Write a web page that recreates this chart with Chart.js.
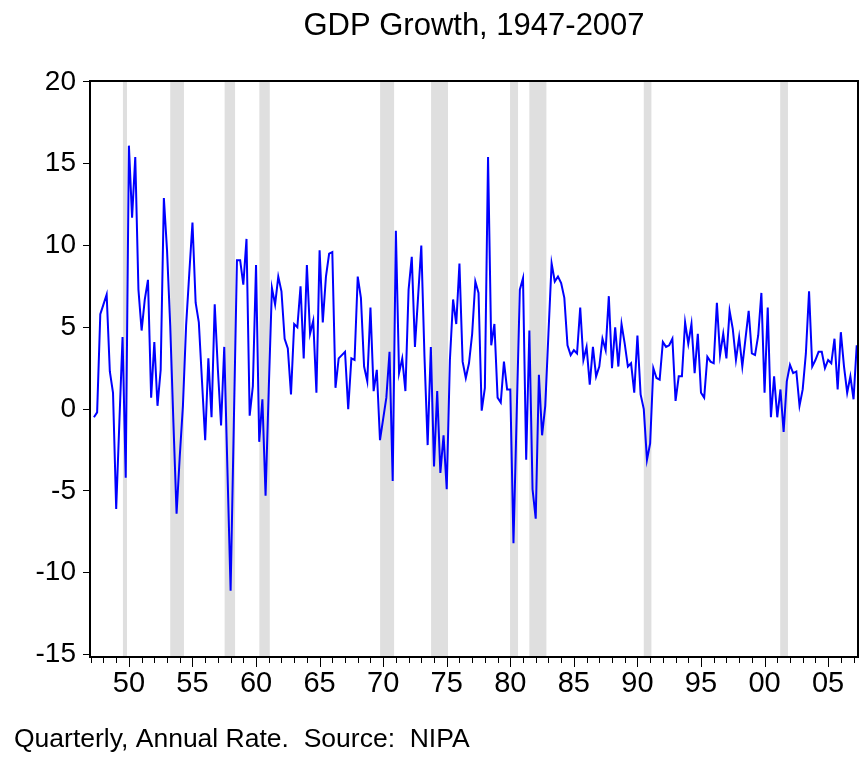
<!DOCTYPE html>
<html lang="en">
<head>
  <meta charset="UTF-8">
  <title>GDP Growth, 1947-2007</title>
  <script src="https://cdn.jsdelivr.net/npm/chart.js"></script>
  <style>
    body {
      margin: 0;
      background: #fff;
    }
    .wrap {
      position: relative;
      width: 860px;
      height: 758px;
    }
  </style>
</head>
<body>
  <div class="wrap">
    <canvas id="gdpChart"></canvas>
  </div>

  <script>
    // quarterly real GDP growth, annual rate, 1947Q2 .. 2007Q2
    const firstYear = 1947;
    const firstQuarter = 2;
    const growth = [
      -0.5, -0.2, 5.8, 6.4, 7.0, 2.3, 1.0, -6.1, -0.8, 4.4,
      -4.2, 16.1, 11.7, 15.4, 7.3, 4.8, 6.7, 7.9, 0.7, 4.1,
      0.2, 2.4, 12.9, 9.7, 5.1, -0.8, -6.4, -2.9, 0.2, 5.1,
      8.3, 11.4, 6.5, 5.3, 1.7, -1.9, 3.1, -0.5, 6.4, 2.4,
      -1.0, 3.8, -3.7, -11.1, -1.0, 9.1, 9.1, 7.6, 10.4, -0.4,
      1.4, 8.8, -2.0, 0.6, -5.3, 1.2, 7.4, 6.4, 8.1, 7.2,
      4.3, 3.7, 0.9, 5.2, 5.0, 7.5, 3.1, 8.8, 4.6, 5.4,
      1.0, 9.7, 5.3, 8.1, 9.5, 9.6, 1.3, 3.1, 3.3, 3.5,
      0.0, 3.1, 3.0, 8.1, 6.8, 2.6, 1.7, 6.2, 1.1, 2.4,
      -1.9, -0.6, 0.7, 3.5, -4.4, 10.9, 2.2, 3.1, 1.1, 7.3,
      9.3, 3.8, 6.9, 10.0, 3.2, -2.2, 3.8, -3.5, 1.1, -3.9,
      -1.6, -4.9, 3.0, 6.7, 5.2, 8.9, 2.9, 1.9, 2.8, 4.6,
      7.8, 7.1, -0.1, 1.3, 15.4, 3.9, 5.2, 0.7, 0.4, 2.9,
      1.2, 1.2, -8.2, -0.4, 7.3, 8.0, -3.1, 4.8, -4.9, -6.7,
      2.1, -1.6, 0.2, 4.6, 8.9, 7.8, 8.1, 7.7, 6.8, 3.9,
      3.3, 3.6, 3.4, 6.2, 3.0, 3.8, 1.5, 3.8, 2.0, 2.6,
      4.3, 3.6, 6.9, 2.5, 5.0, 2.6, 5.2, 4.0, 2.6, 2.8,
      1.0, 4.5, 0.9, 0.0, -3.1, -2.1, 2.5, 1.9, 1.8, 4.1,
      3.8, 3.9, 4.3, 0.5, 2.0, 2.0, 5.3, 4.0, 5.2, 2.2,
      4.6, 1.0, 0.7, 3.2, 2.9, 2.8, 6.5, 3.3, 4.6, 3.1,
      6.0, 4.9, 3.0, 4.4, 2.6, 4.3, 6.0, 3.4, 3.3, 4.5,
      7.1, 1.0, 6.2, -0.5, 2.0, -0.5, 1.2, -1.4, 1.7, 2.7,
      2.2, 2.3, 0.2, 1.2, 3.4, 7.2, 2.6, 3.0, 3.5, 3.5,
      2.5, 3.0, 2.8, 4.3, 1.2, 4.7, 2.6, 1.0, 2.0, 0.6,
      3.9
    ];

    // shaded recession periods (decimal years)
    const recessionStart = [1949.53, 1953.25, 1957.53, 1960.26, 1969.76, 1973.77, 1979.98, 1981.50, 1990.50, 2001.23];
    const recessionEnd   = [1949.85, 1954.33, 1958.35, 1961.08, 1970.86, 1975.10, 1980.61, 1982.84, 1991.10, 2001.84];

    const yTicks = [-15, -10, -5, 0, 5, 10, 15, 20];
    const xLabelYears = [1950, 1955, 1960, 1965, 1970, 1975, 1980, 1985, 1990, 1995, 2000, 2005];
    const xMinorYears = [];
    for (let y = 1947; y <= 2007; y++) xMinorYears.push(y);

    const titleText = 'GDP Growth, 1947-2007';
    const noteText = 'Quarterly, Annual Rate.  Source:  NIPA';
    const fontFamily = '"Liberation Sans", Arial, sans-serif';

    const points = growth.map((v, i) => ({
      x: firstYear + (firstQuarter - 1 + i) / 4,
      y: v
    }));

    const recessionBands = {
      id: 'recessionBands',
      beforeDatasetsDraw(chart) {
        const { ctx, chartArea, scales } = chart;
        ctx.save();
        ctx.fillStyle = '#dfdfdf';
        recessionStart.forEach((s, k) => {
          const x1 = scales.x.getPixelForValue(s);
          const x2 = scales.x.getPixelForValue(recessionEnd[k]);
          ctx.fillRect(x1, chartArea.top, x2 - x1, chartArea.bottom - chartArea.top);
        });
        ctx.restore();
      }
    };

    const frameAndText = {
      id: 'frameAndText',
      afterDraw(chart) {
        const { ctx, chartArea, scales } = chart;
        ctx.save();
        ctx.strokeStyle = '#000';
        ctx.lineWidth = 2;
        ctx.strokeRect(chartArea.left, chartArea.top, chartArea.right - chartArea.left, chartArea.bottom - chartArea.top);

        // yearly ticks on the time axis, longer every 5 years
        ctx.lineWidth = 1;
        ctx.beginPath();
        xMinorYears.forEach(y => {
          const px = Math.round(scales.x.getPixelForValue(y)) + 0.5;
          const len = y % 5 === 0 ? 10 : 6;
          ctx.moveTo(px, chartArea.bottom);
          ctx.lineTo(px, chartArea.bottom + len);
        });
        ctx.stroke();

        ctx.fillStyle = '#000';
        ctx.textBaseline = 'middle';
        ctx.font = '31px ' + fontFamily;
        ctx.textAlign = 'center';
        ctx.fillText(titleText, (chartArea.left + chartArea.right) / 2, 26);
        ctx.font = '26.5px ' + fontFamily;
        ctx.textAlign = 'left';
        ctx.fillText(noteText, 14, 740);
        ctx.restore();
      }
    };

    new Chart(document.getElementById('gdpChart'), {
      type: 'line',
      data: {
        datasets: [{
          data: points,
          borderColor: '#0000ff',
          borderWidth: 2,
          pointRadius: 0,
          tension: 0,
          fill: false
        }]
      },
      options: {
        responsive: true,
        maintainAspectRatio: false,
        animation: false,
        layout: { padding: { top: 81, right: 2, left: 0, bottom: 0 } },
        plugins: {
          legend: { display: false },
          tooltip: { enabled: false }
        },
        scales: {
          x: {
            type: 'linear',
            min: 1946.94,
            max: 2007.35,
            afterBuildTicks: scale => { scale.ticks = xLabelYears.map(v => ({ value: v })); },
            afterFit: scale => { scale.height = 101; },
            grid: { display: false, drawTicks: false },
            border: { display: false },
            ticks: {
              autoSkip: false,
              maxRotation: 0,
              padding: 10,
              color: '#000',
              font: { family: fontFamily, size: 29 },
              callback: v => String(v % 100).padStart(2, '0')
            }
          },
          y: {
            min: -15.15,
            max: 20.05,
            afterBuildTicks: scale => { scale.ticks = yTicks.map(v => ({ value: v })); },
            afterFit: scale => { scale.width = 90; },
            grid: {
              drawOnChartArea: false,
              drawTicks: true,
              tickLength: 7,
              tickColor: '#000'
            },
            border: { display: false },
            ticks: {
              padding: 7,
              color: '#000',
              font: { family: fontFamily, size: 28 }
            }
          }
        }
      },
      plugins: [recessionBands, frameAndText]
    });
  </script>
</body>
</html>
